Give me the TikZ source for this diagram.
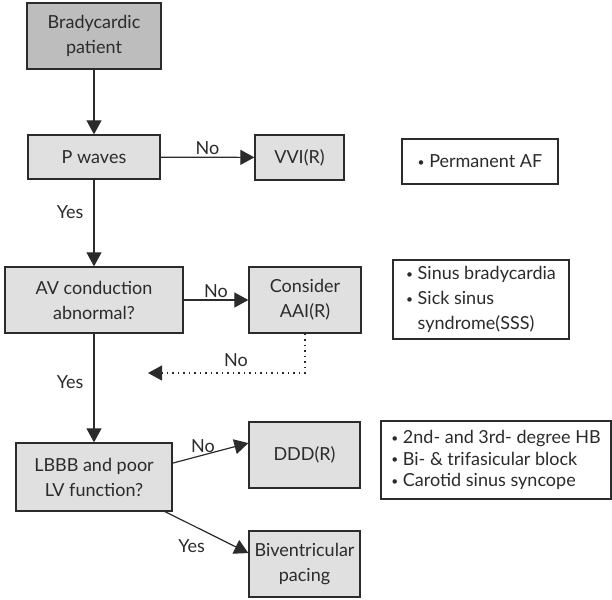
\documentclass[tikz,border=0pt]{standalone}
\usepackage{fontspec}
\setmainfont{Lato}
\usetikzlibrary{arrows.meta}
\definecolor{boxdark}{gray}{0.74}
\definecolor{boxlight}{gray}{0.88}
\definecolor{ink}{gray}{0.17}
\newcommand{\dotmark}{\raisebox{0.15ex}{\fontsize{12}{12}\selectfont•}}

\begin{document}
\begin{tikzpicture}[x=1pt, y=-1pt, >={Triangle[length=14pt,width=15pt]}, ink,
    flowbox/.style={draw=ink, line width=1.3pt, fill=boxlight, text=ink, align=center,
      inner sep=0pt, font=\fontsize{18}{25}\selectfont},
    notebox/.style={draw=ink, line width=1.3pt, fill=white, text=ink, align=left,
      inner sep=0pt},
    link/.style={->, line width=1.2pt, draw=ink},
    lbl/.style={font=\fontsize{18}{20}\selectfont, text=ink, inner sep=2pt}]
    \useasboundingbox (0,0) rectangle (612,599);

    % Flow boxes
    \node[flowbox, fill=boxdark, minimum width=134, minimum height=66] (brady) at (94,36) {Bradycardic\\patient};
    \node[flowbox, minimum width=132, minimum height=44] (pwaves) at (94,157) {P waves};
    \node[flowbox, minimum width=89, minimum height=45] (vvi) at (299.5,157.5) {VVI(R)};
    \node[flowbox, minimum width=178, minimum height=66] (avc) at (94,300) {AV conduction\\abnormal?};
    \node[flowbox, minimum width=112, minimum height=66] (aai) at (305,300) {Consider\\AAI(R)};
    \node[flowbox, minimum width=156, minimum height=68] (lbbb) at (94,477) {LBBB and poor\\LV function?};
    \node[flowbox, minimum width=111, minimum height=66] (ddd) at (304.5,455) {DDD(R)};
    \node[flowbox, minimum width=111, minimum height=66] (biv) at (304.5,564) {Biventricular\\pacing};

    % Indication boxes
    \node[notebox, minimum width=156, minimum height=45, font=\fontsize{18}{25}\selectfont] (af) at (480,161.5) {\dotmark\ Permanent AF};
    \node[notebox, minimum width=176, minimum height=79, font=\fontsize{18}{25}\selectfont] (sinus) at (481,299.5)
      {\dotmark\ Sinus bradycardia\\\dotmark\ Sick sinus\\\hphantom{\dotmark\ }syndrome(SSS)};
    \node[notebox, minimum width=230, minimum height=78, font=\fontsize{18}{21.5}\selectfont] (hb) at (496,460)
      {\dotmark\ 2nd- and 3rd- degree HB\\\dotmark\ Bi- \& trifasicular block\\\dotmark\ Carotid sinus syncope};

    % Arrows
    \draw[link] (brady) -- (pwaves);
    \draw[link] (pwaves) -- node[lbl, left=8pt, pos=0.38] (yesa) {Yes} (avc);
    \draw[link] (pwaves) -- node[lbl, above] (noa) {No} (vvi);
    \draw[link] (avc) -- node[lbl, above] (nob) {No} (aai);
    \draw[link] (avc) -- node[lbl, left=8pt, pos=0.45] (yesb) {Yes} (lbbb);
    \draw[link] (lbbb.10) -- node[lbl, above, pos=0.4] (noc) {No} (ddd.168);
    \draw[link] (lbbb.-26) -- node[lbl, below=12pt, pos=0.32] (yesc) {Yes} (biv.169);

    % Dotted return
    \coordinate (back) at (148,373);
    \draw[link, dash pattern=on 1.5pt off 4pt] (aai.south) |- node[lbl, above=4pt, pos=0.72] (nod) {No} (back);
\end{tikzpicture}
\end{document}
